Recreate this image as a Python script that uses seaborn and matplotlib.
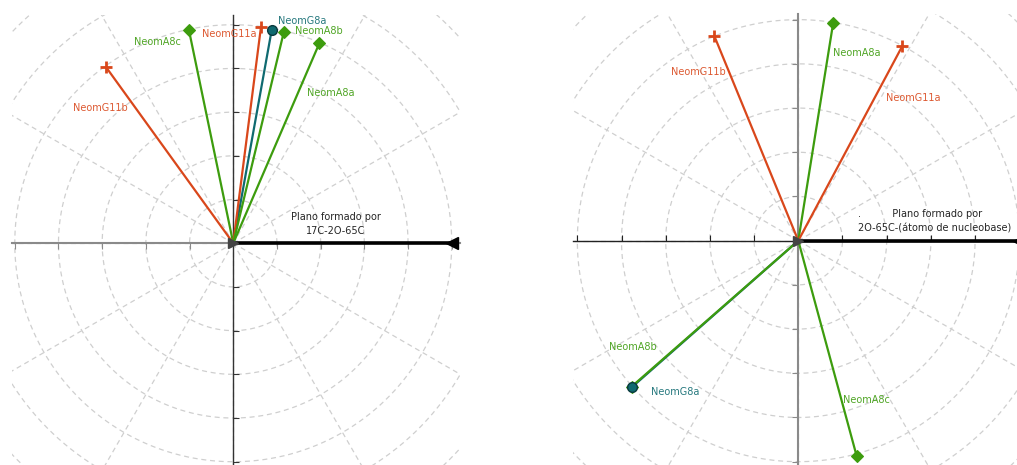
import numpy as np
import pandas as pd
import matplotlib
matplotlib.use("Agg")
import matplotlib.pyplot as plt
import seaborn as sns

# endpoints of the normalised vectors
left_names = ["NeomG11b", "NeomA8c", "NeomG11a", "NeomG8a", "NeomA8b", "NeomA8a"]
left_x = [-0.583, -0.203, 0.127, 0.176, 0.232, 0.394]
left_y = [0.807, 0.976, 0.991, 0.976, 0.969, 0.915]

right_names = ["NeomG11b", "NeomA8a", "NeomG11a", "NeomG8a", "NeomA8b", "NeomA8c"]
right_x = [-0.380, 0.158, 0.471, -0.752, -0.754, 0.264]
right_y = [0.926, 0.986, 0.881, -0.662, -0.660, -0.974]

left_title = "Plano formado por\n17C-2O-65C"
right_title = ".          Plano formado por\n2O-65C-(átomo de nucleobase)"

# label placement (data coords)
left_lab = {"NeomG11b": (-0.610, 0.619), "NeomA8c": (-0.349, 0.921), "NeomG11a": (-0.020, 0.958),
            "NeomG8a": (0.314, 1.017), "NeomA8b": (0.392, 0.972), "NeomA8a": (0.447, 0.688)}
right_lab = {"NeomG11b": (-0.454, 0.765), "NeomA8a": (0.264, 0.851), "NeomG11a": (0.520, 0.647),
             "NeomA8b": (-0.747, -0.480), "NeomG8a": (-0.558, -0.683), "NeomA8c": (0.310, -0.721)}

RED = "#d9471b"
GREEN = "#3d9c0e"
TEAL = "#0f6a70"
style = {
    "G11": dict(color=RED, marker="+", ms=9, mew=2, mec=RED, mfc=RED),
    "A8": dict(color=GREEN, marker="D", ms=6, mew=0.8, mec=GREEN, mfc=GREEN),
    "G8": dict(color=TEAL, marker="o", ms=7, mew=1, mec="#0a3a3e", mfc=TEAL),
}

sns.set_style("white")
plt.rcParams["font.family"] = ["DejaVu Sans"]

fig = plt.figure(figsize=(10.17, 4.65), dpi=100)
W, H = 1017, 465
ax1 = fig.add_axes([11.5 / W, 0 / H, 448.1 / W, 450.1 / H])
ax2 = fig.add_axes([572.9 / W, -1.1 / H, 453 / W, 452.2 / H])
lims = {ax1: ((-1.015, 1.036), (-1.015, 1.045)), ax2: ((-1.02, 1.03), (-1.02, 1.026))}
# spine/tick look per panel: (x colour, x lw, x tick dir), (y colour, y lw, y tick dir)
axis_look = {ax1: (("#8a8a8a", 1.5, "out"), ("#333333", 1.0, "in")),
             ax2: (("#222222", 1.0, "in"), ("#8a8a8a", 1.5, "out"))}


def draw_panel(ax, names, xs, ys, labs, title, title_xy, title_ha):
    xl, yl = lims[ax]
    # polar style grid
    t = np.linspace(0, 2 * np.pi, 400)
    for r in np.arange(0.2, 1.61, 0.2):
        ax.plot(r * np.cos(t), r * np.sin(t), ls=(0, (4, 3)), color="#cfcfcf", lw=0.9, zorder=0)
    for a in np.deg2rad(np.arange(0, 360, 30)):
        ax.plot([0, 1.6 * np.cos(a)], [0, 1.6 * np.sin(a)], ls=(0, (4, 3)), color="#cfcfcf", lw=0.9, zorder=0)

    df = pd.DataFrame({"name": names, "x": xs, "y": ys})
    for _, row in df.iterrows():
        key = "G11" if "G11" in row["name"] else ("G8" if "G8" in row["name"] else "A8")
        st = style[key]
        seg = pd.DataFrame({"x": [0, row["x"]], "y": [0, row["y"]]})
        sns.lineplot(data=seg, x="x", y="y", ax=ax, color=st["color"], lw=1.6,
                     sort=False, estimator=None, zorder=3 if key != "G8" else 2)
        ax.plot(row["x"], row["y"], ls="none", marker=st["marker"], ms=st["ms"], mew=st["mew"],
                mec=st["mec"], mfc=st["mfc"], zorder=5 if key == "G8" else 4, clip_on=False)
        lx, ly = labs[row["name"]]
        ax.text(lx, ly, row["name"], color=st["color"], fontsize=7, ha="center", va="center", alpha=0.9)

    # reference arrow along x
    ax.plot([0, 1.0], [0, 0], color="black", lw=2.6, zorder=6)
    ax.plot(1.0, 0, marker="<", color="black", ms=8, zorder=6, clip_on=False)
    ax.plot(0, 0, marker=">", color="#444444", ms=7, zorder=7)
    ax.text(title_xy[0], title_xy[1], title, fontsize=7, ha=title_ha, va="center",
            multialignment="left" if title_ha == "left" else "center", linespacing=1.6, zorder=8)

    ax.set_xlim(*xl)
    ax.set_ylim(*yl)
    ax.set_aspect("auto")
    for s in ["top", "right"]:
        ax.spines[s].set_visible(False)
    ax.spines["left"].set_position(("data", 0))
    ax.spines["bottom"].set_position(("data", 0))
    (xc, xlw, xdir), (yc, ylw, ydir) = axis_look[ax]
    ax.spines["bottom"].set_color(xc)
    ax.spines["bottom"].set_linewidth(xlw)
    ax.spines["left"].set_color(yc)
    ax.spines["left"].set_linewidth(ylw)
    for s in ["left", "bottom"]:
        ax.spines[s].set_zorder(1)
    ticks = [v for v in np.round(np.arange(-1.0, 1.01, 0.2), 1) if v != 0]
    ax.set_xticks(ticks)
    ax.set_yticks(ticks)
    ax.set_xticklabels([])
    ax.set_yticklabels([])
    ax.tick_params(axis="x", direction=xdir, length=4, width=0.8, color=xc, bottom=True)
    ax.tick_params(axis="y", direction=ydir, length=4, width=0.8, color=yc, left=True)
    ax.set_xlabel("")
    ax.set_ylabel("")
    ax.patch.set_alpha(0)


draw_panel(ax1, left_names, left_x, left_y, left_lab, left_title, (0.470, 0.088), "center")
draw_panel(ax2, right_names, right_x, right_y, right_lab, right_title, (0.270, 0.088), "left")

fig.savefig("out.png", dpi=100)
plt.close(fig)
